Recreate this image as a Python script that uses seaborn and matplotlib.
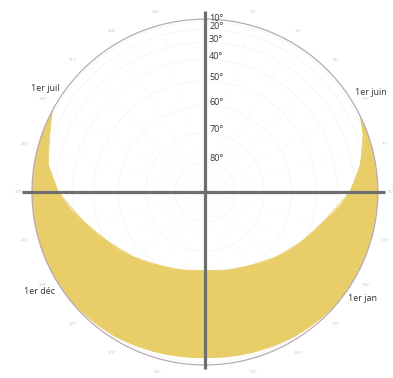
import numpy as np
import pandas as pd
import matplotlib
matplotlib.use("Agg")
import matplotlib.pyplot as plt
import matplotlib.transforms as mtransforms
from matplotlib.path import Path
from matplotlib.patches import PathPatch
import seaborn as sns

# sun band: azimuth (deg, clockwise from north) and altitude of both edges (deg)
band_azimuth = [298, 292, 280, 270, 256, 243, 228, 212, 196, 180, 164, 148, 132, 117, 104, 90, 80, 70, 64]
band_inner_alt = [0, 15, 23, 32, 44, 51, 56, 60, 62, 63, 62, 60, 56, 51, 45, 33, 24, 13, 0]
band_outer_alt = [0, 0, 0, 0, 0, 0, 6, 11, 15, 17, 15, 11, 6, 0, 0, 0, 0, 0, 0]

ring_alt = [10, 20, 30, 40, 50, 60, 70, 80]
ring_labels = ["10°", "20°", "30°", "40°", "50°", "60°", "70°", "80°"]

date_labels = ["1er juil", "1er juin", "1er déc", "1er jan"]
date_azimuth = [303, 59, 239, 124]
date_radius = [1.10, 1.12, 1.115, 1.10]

azimuth_ticks = list(range(0, 360, 15))

sns.set_style("white")
plt.rcParams["font.family"] = ["Open Sans", "DejaVu Sans"]

fig = plt.figure(figsize=(3.93, 3.78), dpi=100)
ax = fig.add_axes([0.0814, 0.0344, 0.880, 0.915], projection="polar")
ax.set_theta_zero_location("N")
ax.set_theta_direction(-1)
ax.set_ylim(0, 1)

# orthographic projection: radius = cos(altitude)
theta = np.radians(band_azimuth)
r_in = np.cos(np.radians(band_inner_alt))
r_out = np.cos(np.radians(band_outer_alt))

yellow = "#E8CD68"
verts = list(zip(theta, r_in)) + list(zip(theta[::-1], r_out[::-1])) + [(theta[0], r_in[0])]
band_path = Path(verts, closed=True)
band_path._interpolation_steps = 40  # curved edges in polar space
ax.add_patch(PathPatch(band_path, facecolor=yellow, edgecolor=yellow, lw=0.6,
                       transform=ax.transData, zorder=2))
edges = pd.DataFrame({"theta": np.concatenate([theta, theta]),
                      "r": np.concatenate([r_in, r_out]),
                      "edge": ["inner"] * len(theta) + ["outer"] * len(theta)})
sns.lineplot(data=edges, x="theta", y="r", units="edge", estimator=None,
             sort=False, color=yellow, lw=0.6, ax=ax, zorder=2)

# altitude rings
ax.set_yticks(np.cos(np.radians(ring_alt)))
ax.set_yticklabels([])
ax.set_xticks(np.radians(azimuth_ticks))
ax.set_xticklabels(["" if a in (0, 180) else f"{a}°" for a in azimuth_ticks],
                   fontsize=3, color="#c9bfc6")
ax.tick_params(axis="x", pad=-1)
ax.yaxis.grid(True, color="#e2e2e2", lw=0.5, ls=(0, (1, 1.5)))
ax.xaxis.grid(True, color="#f1f1f1", lw=0.4, ls=(0, (1, 2)))
ax.spines["polar"].set_color("#b9a9b3")
ax.spines["polar"].set_linewidth(0.9)
ax.set_xlabel("")
ax.set_ylabel("")

# cross lines
grey = "#6e6e6e"
for az, rr in [(0, 1.045), (180, 1.025), (270, 1.055), (90, 1.04)]:
    ax.plot([np.radians(az)] * 2, [0, rr], color=grey, lw=2.3, clip_on=False,
            zorder=5, solid_capstyle="butt")

# ring labels along the north line
off = mtransforms.offset_copy(ax.transData, fig=fig, x=3, y=-1, units="points")
for alt, lab in zip(ring_alt, ring_labels):
    ax.text(0, np.cos(np.radians(alt)), lab, transform=off, ha="left", va="bottom",
            fontsize=6.5, color="#333333", zorder=6)

for lab, az, rr in zip(date_labels, date_azimuth, date_radius):
    ax.text(np.radians(az), rr, lab, ha="center", va="center", fontsize=6.5,
            color="#333333", clip_on=False)

fig.savefig("out.png", dpi=100)
